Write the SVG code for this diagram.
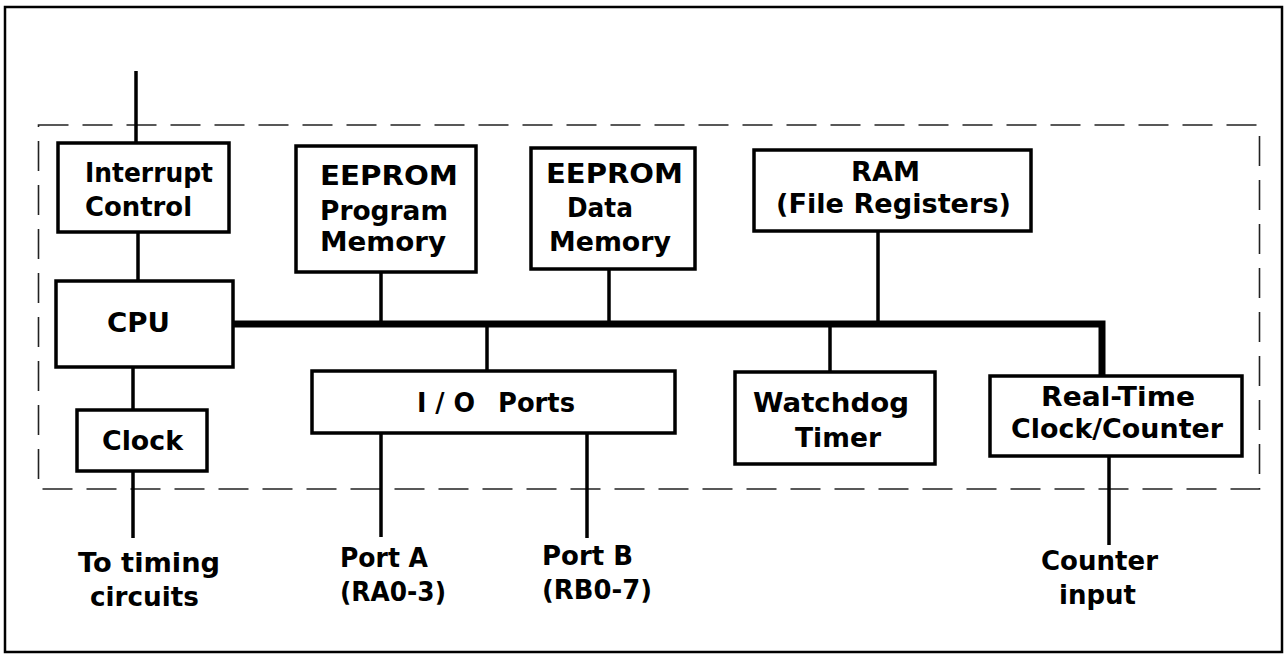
<svg xmlns="http://www.w3.org/2000/svg" width="1284" height="654" viewBox="0 0 1284 654">
<style>
.box{fill:#fff;stroke:#000;stroke-width:3.5}
.wire{stroke:#000;stroke-width:3.5;fill:none}
.bus{stroke:#000;stroke-width:7;fill:none}
.dash{fill:none;stroke:#222;stroke-width:1.6;stroke-dasharray:30 14}
text{font-family:"DejaVu Sans","Liberation Sans",sans-serif;font-weight:bold;font-size:26.5px;fill:#000}
</style>
<rect x="0" y="0" width="1284" height="654" fill="#fff"/>
<rect x="5" y="7" width="1277" height="645" fill="none" stroke="#000" stroke-width="2.5"/>
<rect class="dash" x="38.5" y="125" width="1221" height="364"/>
<g id="connectors">
  <line class="wire" x1="136" y1="71" x2="136" y2="143"/>
  <line class="wire" x1="138" y1="232" x2="138" y2="281"/>
  <line class="wire" x1="133" y1="367" x2="133" y2="410"/>
  <line class="wire" x1="133" y1="471" x2="133" y2="538"/>
  <polyline class="bus" points="233,324 1102,324 1102,376"/>
  <line class="wire" x1="381" y1="272" x2="381" y2="324"/>
  <line class="wire" x1="609" y1="269" x2="609" y2="324"/>
  <line class="wire" x1="878" y1="231" x2="878" y2="324"/>
  <line class="wire" x1="487" y1="324" x2="487" y2="371"/>
  <line class="wire" x1="830" y1="324" x2="830" y2="372"/>
  <line class="wire" x1="381" y1="433" x2="381" y2="537"/>
  <line class="wire" x1="587" y1="433" x2="587" y2="538"/>
  <line class="wire" x1="1109" y1="456" x2="1109" y2="545"/>
</g>
<g id="interrupt">
  <rect class="box" x="58" y="143" width="171" height="89"/>
  <text x="85" y="182" textLength="128" lengthAdjust="spacingAndGlyphs">Interrupt</text>
  <text x="85" y="216" textLength="107" lengthAdjust="spacingAndGlyphs">Control</text>
</g>
<g id="cpu">
  <rect class="box" x="56" y="281" width="177" height="86"/>
  <text x="107" y="332" textLength="63" lengthAdjust="spacingAndGlyphs">CPU</text>
</g>
<g id="clock">
  <rect class="box" x="77" y="410" width="130" height="61"/>
  <text x="102" y="450" textLength="81" lengthAdjust="spacingAndGlyphs">Clock</text>
</g>
<g id="timing-label">
  <text x="78" y="572" textLength="142" lengthAdjust="spacingAndGlyphs">To timing</text>
  <text x="90" y="606" textLength="109" lengthAdjust="spacingAndGlyphs">circuits</text>
</g>
<g id="eeprom-program">
  <rect class="box" x="296" y="146" width="180" height="126"/>
  <text x="320" y="185" textLength="138" lengthAdjust="spacingAndGlyphs">EEPROM</text>
  <text x="320" y="220" textLength="128" lengthAdjust="spacingAndGlyphs">Program</text>
  <text x="320" y="251" textLength="126" lengthAdjust="spacingAndGlyphs">Memory</text>
</g>
<g id="eeprom-data">
  <rect class="box" x="531" y="148" width="164" height="121"/>
  <text x="546" y="183" textLength="137" lengthAdjust="spacingAndGlyphs">EEPROM</text>
  <text x="567" y="217" textLength="66" lengthAdjust="spacingAndGlyphs">Data</text>
  <text x="549" y="251" textLength="122" lengthAdjust="spacingAndGlyphs">Memory</text>
</g>
<g id="ram">
  <rect class="box" x="754" y="150" width="277" height="81"/>
  <text x="851" y="181" textLength="69" lengthAdjust="spacingAndGlyphs">RAM</text>
  <text x="776" y="213" textLength="235" lengthAdjust="spacingAndGlyphs">(File Registers)</text>
</g>
<g id="io-ports">
  <rect class="box" x="312" y="371" width="363" height="62"/>
  <text y="412"><tspan x="417" textLength="58" lengthAdjust="spacingAndGlyphs">I / O</tspan><tspan x="498" textLength="77" lengthAdjust="spacingAndGlyphs">Ports</tspan></text>
</g>
<g id="watchdog">
  <rect class="box" x="735" y="372" width="200" height="92"/>
  <text x="753" y="412" textLength="156" lengthAdjust="spacingAndGlyphs">Watchdog</text>
  <text x="795" y="447" textLength="86" lengthAdjust="spacingAndGlyphs">Timer</text>
</g>
<g id="rtcc">
  <rect class="box" x="990" y="376" width="252" height="80"/>
  <text x="1041" y="406" textLength="154" lengthAdjust="spacingAndGlyphs">Real-Time</text>
  <text x="1011" y="438" textLength="212" lengthAdjust="spacingAndGlyphs">Clock/Counter</text>
</g>
<g id="port-a-label">
  <text x="340" y="567" textLength="88" lengthAdjust="spacingAndGlyphs">Port A</text>
  <text x="340" y="601" textLength="106" lengthAdjust="spacingAndGlyphs">(RA0-3)</text>
</g>
<g id="port-b-label">
  <text x="542" y="565" textLength="91" lengthAdjust="spacingAndGlyphs">Port B</text>
  <text x="542" y="599" textLength="110" lengthAdjust="spacingAndGlyphs">(RB0-7)</text>
</g>
<g id="counter-label">
  <text x="1041" y="570" textLength="117" lengthAdjust="spacingAndGlyphs">Counter</text>
  <text x="1059" y="604" textLength="77" lengthAdjust="spacingAndGlyphs">input</text>
</g>
</svg>
